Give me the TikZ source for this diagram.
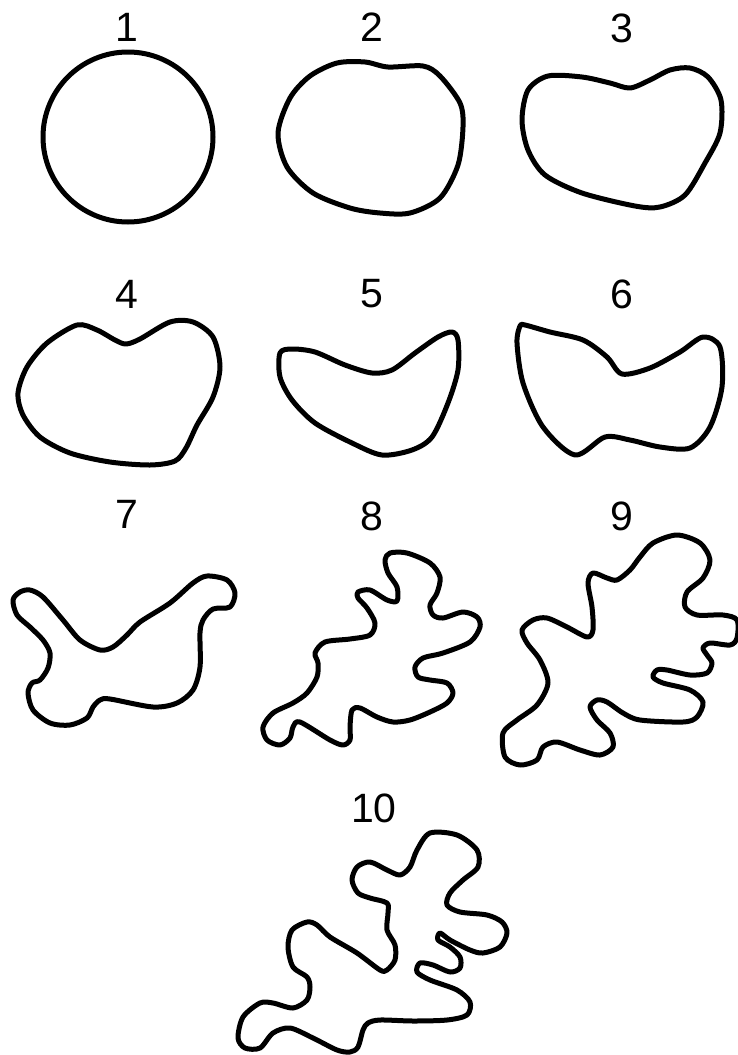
\documentclass[tikz,border=0pt]{standalone}
\usepackage{fontspec}
\setmainfont{Liberation Sans}
\begin{document}
\begin{tikzpicture}[x=1pt,y=-1pt,
  blob/.style={line width=5pt, line join=round},
  lbl/.style={font=\fontsize{41}{41}\selectfont, inner sep=0pt, anchor=center}]
\useasboundingbox (0,0) rectangle (738,1055);
% labels
\node[lbl] (l1) at (127,27) {1};
\node[lbl] (l2) at (372,27) {2};
\node[lbl] (l3) at (622,28) {3};
\node[lbl] (l4) at (127,294) {4};
\node[lbl] (l5) at (372,294) {5};
\node[lbl] (l6) at (622,294) {6};
\node[lbl] (l7) at (127,514) {7};
\node[lbl] (l8) at (372,516) {8};
\node[lbl] (l9) at (622,516) {9};
\node[lbl] (l10) at (374,808) {10};
% shape 1
\draw[blob] (128,137) circle (85);
% shape 2
\draw[blob] plot[smooth cycle] coordinates {(278,133) (290,98) (310,76) (337,63) (365,62) (388,67) (423,66) (440,76) (460,103) (463,127) (458,165) (440,198) (410,213) (380,213) (350,208) (313,193) (287,167)};
% shape 3
\draw[blob] plot[smooth cycle] coordinates {(522,120) (528,90) (548,76) (582,77) (610,83) (630,88) (650,80) (670,70) (690,68) (708,77) (721,100) (720,133) (705,163) (685,195) (660,207) (635,206) (582,193) (545,175) (528,150)};
% shape 4
\draw[blob] plot[smooth cycle] coordinates {(18,393) (27,367) (47,343) (77,325) (97,330) (115,340) (126,344) (140,339) (170,322) (193,322) (213,337) (220,367) (213,397) (197,425) (186,448) (175,461) (150,465) (110,462) (70,453) (40,437) (23,415)};
% shape 5
\draw[blob] plot[smooth cycle] coordinates {(280,353) (292,349) (315,352) (345,365) (372,373) (392,370) (415,353) (438,337) (452,332) (458,340) (458,370) (448,403) (432,437) (412,450) (382,455) (352,443) (315,423) (292,400) (280,377)};
% shape 6
\draw[blob] plot[smooth cycle] coordinates {(520,326) (525,325) (550,332) (583,340) (607,357) (622,374) (650,368) (680,352) (703,337) (720,347) (722,387) (710,427) (690,448) (660,447) (630,440) (605,437) (575,455) (543,427) (523,383) (517,343)};
% shape 7
\draw[blob] plot[smooth cycle] coordinates {(13,600) (20,592) (30,590) (43,597) (63,620) (80,640) (100,650) (113,647) (127,635) (140,622) (170,603) (193,583) (207,576) (227,580) (235,593) (230,607) (213,609) (203,620) (200,633) (200,667) (193,690) (177,703) (153,707) (110,699) (100,700) (93,707) (87,718) (70,725) (50,723) (33,710) (28,693) (32,683) (40,680) (48,668) (50,653) (43,640) (30,627) (17,615)};
% shape 8
\draw[blob] plot[smooth cycle] coordinates {(390,553) (407,553) (430,563) (440,577) (437,593) (430,605) (433,615) (443,618) (463,612) (477,617) (480,627) (470,642) (443,653) (423,658) (415,667) (418,677) (430,680) (447,683) (453,693) (447,703) (430,712) (410,720) (393,722) (377,717) (360,708) (352,710) (350,727) (350,740) (343,745) (330,740) (300,722) (293,727) (290,738) (280,745) (267,740) (263,727) (273,713) (293,703) (307,693) (317,677) (318,663) (315,653) (325,642) (350,639) (370,635) (375,623) (367,608) (358,598) (358,592) (370,590) (387,600) (397,601) (397,587) (388,573) (385,560)};
% shape 9
\draw[blob] plot[smooth cycle] coordinates {(653,543) (677,535) (700,543) (710,560) (703,578) (687,592) (685,607) (697,615) (723,615) (737,620) (737,638) (730,645) (710,643) (703,648) (707,655) (712,663) (707,673) (690,675) (667,670) (657,670) (653,677) (663,683) (690,690) (703,702) (697,717) (683,722) (640,720) (623,713) (607,702) (597,700) (590,707) (597,720) (610,733) (613,747) (600,755) (580,750) (557,742) (543,747) (537,760) (520,765) (505,757) (503,733) (517,720) (537,705) (548,683) (540,660) (527,643) (522,630) (533,620) (547,618) (567,627) (587,637) (593,630) (592,607) (588,583) (593,573) (607,578) (617,580) (630,570) (640,557)};
% shape 10
\draw[blob] plot[smooth cycle] coordinates {(430,833) (457,835) (477,850) (478,867) (463,880) (450,893) (447,905) (460,912) (487,915) (502,922) (507,933) (500,947) (483,953) (470,950) (450,940) (440,933) (438,940) (450,947) (460,957) (460,968) (450,972) (433,965) (420,963) (417,972) (430,980) (457,990) (470,1002) (467,1015) (447,1020) (413,1021) (380,1020) (368,1023) (363,1030) (358,1047) (350,1052) (337,1050) (313,1038) (290,1028) (273,1033) (260,1048) (245,1048) (238,1038) (243,1017) (260,1003) (273,1003) (293,1008) (307,1000) (310,987) (307,977) (293,967) (288,947) (292,930) (307,922) (317,925) (330,937) (357,953) (380,970) (387,970) (395,960) (395,945) (387,930) (388,913) (387,903) (370,898) (358,893) (352,880) (357,867) (370,862) (387,870) (400,875) (410,867) (417,850)};
\end{tikzpicture}
\end{document}
